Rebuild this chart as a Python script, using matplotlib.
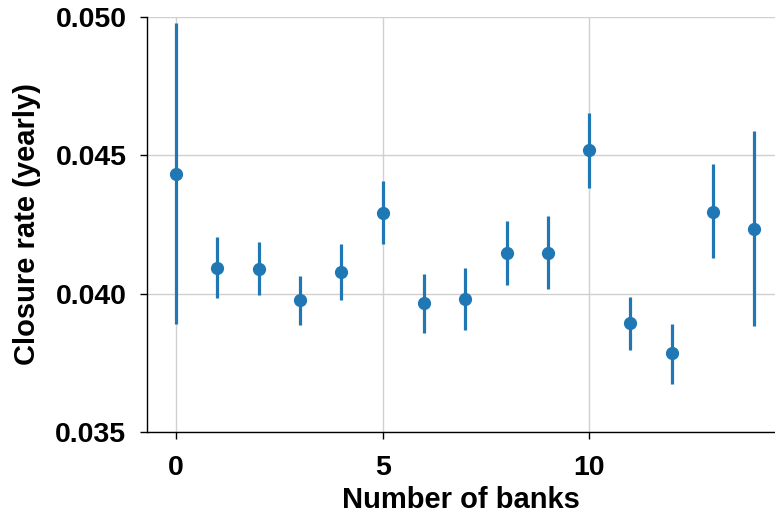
import matplotlib
matplotlib.use("Agg")
import matplotlib.pyplot as plt
import numpy as np

# number of banks and yearly closure rate with interval bounds
banks = np.arange(15)
rate = [0.04433, 0.04093, 0.04089, 0.03977, 0.04078, 0.04292, 0.03966, 0.03981,
        0.04147, 0.04147, 0.04519, 0.03894, 0.03786, 0.04295, 0.04234]
upper = [0.04978, 0.04205, 0.04187, 0.04064, 0.04180, 0.04407, 0.04071, 0.04093,
         0.04263, 0.04281, 0.04653, 0.03988, 0.03890, 0.04469, 0.04588]
lower = [0.03890, 0.03984, 0.03995, 0.03887, 0.03977, 0.04180, 0.03858, 0.03869,
         0.04031, 0.04017, 0.04382, 0.03796, 0.03673, 0.04129, 0.03883]

plt.rcParams['font.family'] = ['Liberation Sans', 'DejaVu Sans']
plt.rcParams['font.weight'] = 'bold'

fig = plt.figure(figsize=(7.75, 5.19), dpi=100)
ax = fig.add_axes([0.19, 0.168, 0.81, 0.799])

rate = np.array(rate)
yerr = [rate - np.array(lower), np.array(upper) - rate]
ax.errorbar(banks, rate, yerr=yerr, fmt='o', color='#1f77b4',
            elinewidth=2.3, markersize=8.5, capsize=0, zorder=3)

ax.set_xlim(-0.7, 14.5)
ax.set_ylim(0.035, 0.050)
ax.set_xticks([0, 5, 10])
ax.set_yticks([0.035, 0.040, 0.045, 0.050])
ax.set_yticklabels(['0.035', '0.040', '0.045', '0.050'])
ax.grid(True, color='#d0d0d0', linewidth=1.0, zorder=0)
ax.set_axisbelow(True)

for side in ['top', 'right']:
    ax.spines[side].set_visible(False)
for side in ['left', 'bottom']:
    ax.spines[side].set_linewidth(1.0)

ax.tick_params(labelsize=20.5, length=5, width=1)
ax.tick_params(axis='y', pad=10)
ax.tick_params(axis='x', pad=12)
for lab in ax.get_xticklabels() + ax.get_yticklabels():
    lab.set_fontweight('bold')

ax.set_xlabel('Number of banks', fontsize=21, fontweight='bold', labelpad=3)
ax.set_ylabel('Closure rate (yearly)', fontsize=21, fontweight='bold', labelpad=10)

fig.savefig('out.png', dpi=100)
